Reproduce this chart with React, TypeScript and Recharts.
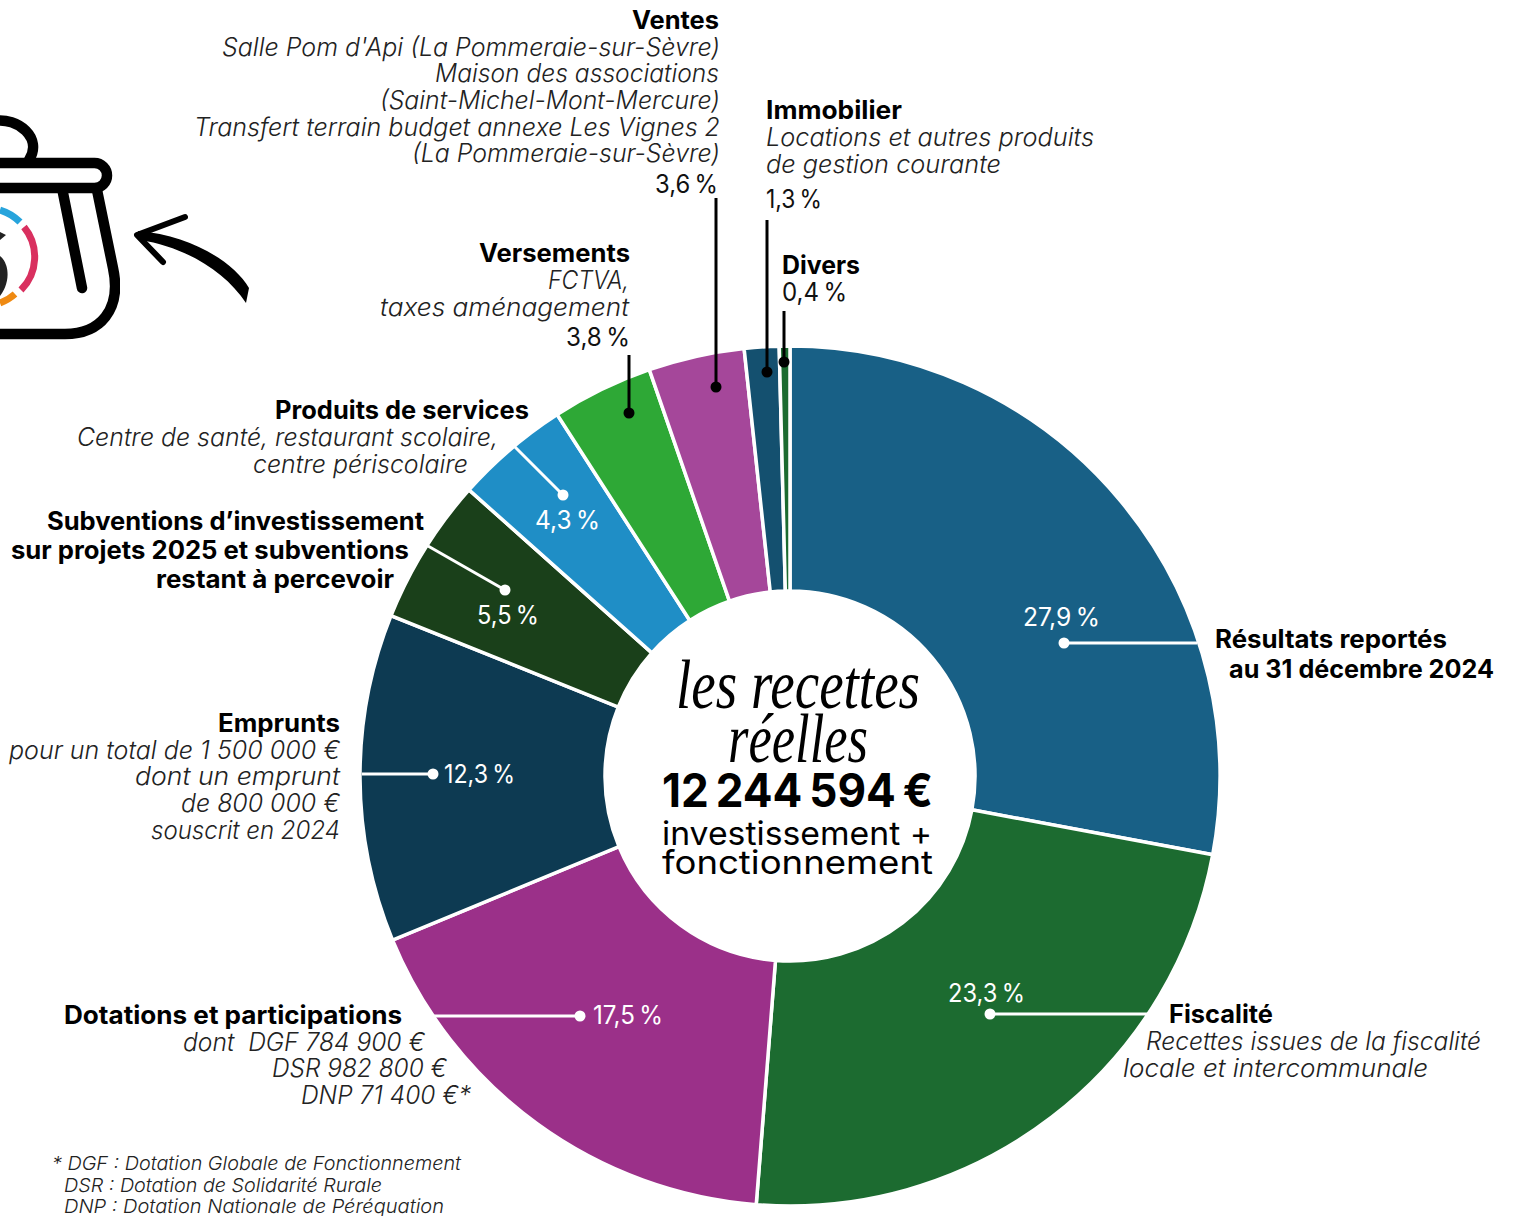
import { PieChart, Pie, Cell } from 'recharts';

// slices, clockwise from 12 o'clock
const categories = [
  'Résultats reportés', 'Fiscalité', 'Dotations et participations', 'Emprunts',
  "Subventions d'investissement", 'Produits de services', 'Versements', 'Ventes', 'Immobilier', 'Divers',
];
const shares = [27.9, 23.3, 17.5, 12.3, 5.5, 4.3, 3.8, 3.6, 1.3, 0.4];
const colors = ['#186086', '#1c6b30', '#9b3089', '#0d3a52', '#1a401a', '#1f8ec6', '#2ea836', '#a5479a', '#14506f', '#1c6b30'];

const pieData = categories.map((name, i) => ({ name, value: shares[i] }));
const pct = (name: string) => shares[categories.indexOf(name)].toFixed(1).replace('.', ',') + '\u2009%';

const FONT = 'Inter, "Open Sans", sans-serif';

// text, left, right, baseline
type Row = [string, number, number, number];

const boldRows: Row[] = [
  ['Ventes', 632, 719, 29],
  ['Immobilier', 766, 902, 119],
  ['Divers', 782, 860, 274],
  ['Versements', 479, 630, 262],
  ['Produits de services', 275, 529, 419],
  ['Subventions d’investissement', 47, 424, 530],
  ['sur projets 2025 et subventions', 11, 409, 559],
  ['restant à percevoir', 156, 394, 588],
  ['Emprunts', 218, 340, 732],
  ['Dotations et participations', 64, 402, 1024],
  ['Résultats reportés', 1215, 1447, 648],
  ['au 31 décembre 2024', 1229, 1494, 678],
  ['Fiscalité', 1169, 1273, 1023],
];

const italicRows: Row[] = [
  ["Salle Pom d'Api (La Pommeraie-sur-Sèvre)", 222, 720, 56],
  ['Maison des associations', 435, 719, 82],
  ['(Saint-Michel-Mont-Mercure)', 380, 720, 109],
  ['Transfert terrain budget annexe Les Vignes 2', 194, 720, 136],
  ['(La Pommeraie-sur-Sèvre)', 412, 720, 162],
  ['Locations et autres produits', 766, 1094, 146],
  ['de gestion courante', 766, 1001, 173],
  ['FCTVA,', 548, 629, 289],
  ['taxes aménagement', 380, 629, 316],
  ['Centre de santé, restaurant scolaire,', 77, 498, 446],
  ['centre périscolaire', 253, 468, 473],
  ['pour un total de 1 500 000 €', 9, 340, 759],
  ['dont un emprunt', 135, 340, 785],
  ['de 800 000 €', 181, 340, 812],
  ['souscrit en 2024', 151, 340, 839],
  ['dont  DGF 784 900 €', 183, 425, 1051],
  ['DSR 982 800 €', 272, 447, 1077],
  ['DNP 71 400 €*', 301, 471, 1104],
  ['Recettes issues de la fiscalité', 1146, 1481, 1050],
  ['locale et intercommunale', 1123, 1428, 1077],
];

const footRows: Row[] = [
  ['* DGF : Dotation Globale de Fonctionnement', 52, 461, 1170],
  ['DSR : Dotation de Solidarité Rurale', 64, 382, 1192],
  ['DNP : Dotation Nationale de Péréquation', 64, 444, 1213],
];

// category, left, right, baseline, colour
const pctRows: [string, number, number, number, string][] = [
  ['Ventes', 655, 718, 193, '#111'],
  ['Immobilier', 766, 822, 208, '#111'],
  ['Divers', 782, 847, 301, '#111'],
  ['Versements', 566, 630, 346, '#111'],
  ['Produits de services', 535, 600, 529, '#fff'],
  ["Subventions d'investissement", 477, 539, 624, '#fff'],
  ['Emprunts', 444, 515, 783, '#fff'],
  ['Dotations et participations', 593, 663, 1024, '#fff'],
  ['Résultats reportés', 1023, 1100, 626, '#fff'],
  ['Fiscalité', 948, 1025, 1002, '#fff'],
];

// x1, y1, x2 (dot), y2 (dot), colour
const leaders: [number, number, number, number, string][] = [
  [716, 198, 716, 387, '#000'],
  [767, 220, 767, 372, '#000'],
  [784, 311, 784, 362, '#000'],
  [629, 355, 629, 413, '#000'],
  [515, 447, 563, 495, '#fff'],
  [428, 546, 505, 590, '#fff'],
  [362, 774, 433, 774, '#fff'],
  [433, 1016, 580, 1016, '#fff'],
  [1197, 643, 1064, 643, '#fff'],
  [1148, 1014, 990, 1014, '#fff'],
];

function Txt({ row, size, weight, italic, fill, family }: { row: Row; size: number; weight?: number; italic?: boolean; fill?: string; family?: string }) {
  const [text, x0, x1, y] = row;
  return (
    <text
      x={x0}
      y={y}
      textLength={x1 - x0}
      lengthAdjust="spacingAndGlyphs"
      fontFamily={family ?? FONT}
      fontSize={size}
      fontWeight={weight ?? 400}
      fontStyle={italic ? 'italic' : 'normal'}
      fill={fill ?? '#111'}
      style={{ whiteSpace: 'pre' }}
    >
      {text}
    </text>
  );
}

function PotIcon() {
  return (
    <g>
      <defs>
        <clipPath id="potClip"><rect x="0" y="100" width="120" height="250" /></clipPath>
      </defs>
      <g clipPath="url(#potClip)" fill="none" stroke="#000" strokeWidth={10.5} strokeLinecap="round" strokeLinejoin="round">
        <path d="M-6,121 C18,117 43,138 29,160" />
        <rect x="-40" y="163" width="147" height="25" rx="12.5" />
        <path d="M97,190 L113,268 C122,310 100,334 65,334 L-10,334" />
        <path d="M63,193 L82,288" />
        <path d="M0,210 A48,48 0 0 1 20,222" stroke="#27a4dc" strokeWidth={7} strokeLinecap="butt" />
        <path d="M24,227 A47,47 0 0 1 21,290" stroke="#d9305f" strokeWidth={7} strokeLinecap="butt" />
        <path d="M15,294 A47,47 0 0 1 0,303" stroke="#ef8a12" strokeWidth={7} strokeLinecap="butt" />
        <path d="M0,256 C8,262 12,280 0,296 Z" fill="#222" stroke="none" />
        <path d="M0,232 L6,235 L0,240 Z" fill="#222" stroke="none" />
      </g>
      <path d="M185,217 L137,235 L163,262" fill="none" stroke="#000" strokeWidth={6} strokeLinecap="round" strokeLinejoin="round" />
      <path d="M138,231 C190,235 234,262 249,288 L246,303 C225,271 185,247 140,240 Z" fill="#000" />
    </g>
  );
}

export default function App() {
  return (
    <div style={{ position: 'absolute', left: 0, top: 0, width: 1514, height: 1216, background: '#fff' }}>
      <PieChart width={1514} height={1216} margin={{ top: 0, right: 0, bottom: 0, left: 0 }}>
        <Pie
          data={pieData}
          dataKey="value"
          nameKey="name"
          cx={790}
          cy={776}
          innerRadius={185}
          outerRadius={430}
          startAngle={90}
          endAngle={-270}
          stroke="#fff"
          strokeWidth={3.5}
          isAnimationActive={false}
        >
          {pieData.map((d, i) => (
            <Cell key={d.name} fill={colors[i]} />
          ))}
        </Pie>
      </PieChart>
      {/* labels sit in their own layer because the pie paints over chart children */}
      <svg width={1514} height={1216} style={{ position: 'absolute', left: 0, top: 0, pointerEvents: 'none' }}>
        <PotIcon />
        {leaders.map(([x1, y1, x2, y2, c]) => (
          <g key={`${x1}-${y1}`}>
            <line x1={x1} y1={y1} x2={x2} y2={y2} stroke={c} strokeWidth={3} />
            <circle cx={x2} cy={y2} r={5.5} fill={c} />
          </g>
        ))}
        {boldRows.map((r) => <Txt key={r[0]} row={r} size={25} weight={700} fill="#000" />)}
        {italicRows.map((r) => <Txt key={r[0]} row={r} size={25} weight={300} italic fill="#222" />)}
        {footRows.map((r) => <Txt key={r[0]} row={r} size={19} weight={300} italic fill="#222" />)}
        {pctRows.map(([name, x0, x1, y, c]) => <Txt key={name} row={[pct(name), x0, x1, y]} size={25} fill={c} />)}
        <Txt row={['les recettes', 676, 920, 708]} size={70} italic fill="#000" family='"Liberation Serif", serif' />
        <Txt row={['réelles', 728, 868, 762]} size={70} italic fill="#000" family='"Liberation Serif", serif' />
        <Txt row={['12\u2009244\u2009594\u2009€', 662, 933, 807]} size={47} weight={700} fill="#000" />
        <Txt row={['investissement +', 662, 932, 845]} size={33} fill="#000" />
        <Txt row={['fonctionnement', 662, 933, 874]} size={33} fill="#000" />
      </svg>
    </div>
  );
}
